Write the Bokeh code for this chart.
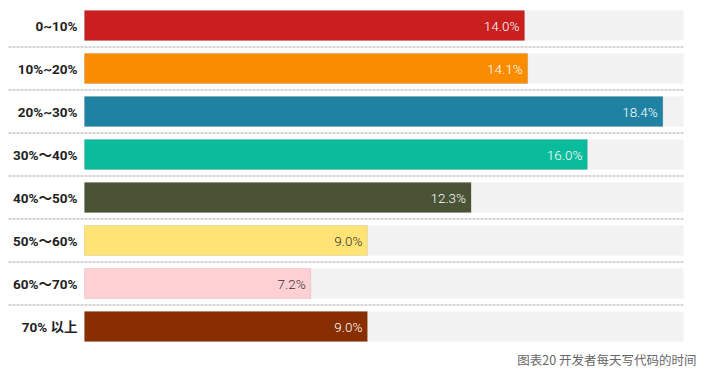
from bokeh.plotting import figure
from bokeh.models import ColumnDataSource, Range1d, Label
from bokeh.core.properties import value
from bokeh.embed import file_html
from bokeh.resources import INLINE

categories = ["0~10%", "10%~20%", "20%~30%", "30%～40%", "40%～50%", "50%～60%", "60%～70%", "70% 以上"]
values = [14.0, 14.1, 18.4, 16.0, 12.3, 9.0, 7.2, 9.0]
colors = ["#C91F1F", "#FA8C00", "#1F82A2", "#0ABC9B", "#4A5336", "#FFE375", "#FFD0D3", "#882E00"]
label_colors = ["#FFFFFF", "#FFFFFF", "#FFFFFF", "#FFFFFF", "#FFFFFF", "#333333", "#333333", "#FFFFFF"]
bg_max = 19.06
caption = "图表20 开发者每天写代码的时间"

W, H = 700, 370
px_per_unit = 31.43
x0_px = 84
row_px = 43
y0_px = 25
sep_left_px = 8

xs = -x0_px / px_per_unit
xe = (W - x0_px) / px_per_unit
ys = -y0_px / row_px
ye = ys + H / row_px

idx = list(range(len(categories)))
src = ColumnDataSource(dict(
    y=idx, v=values, c=colors, lc=label_colors, cat=categories,
    bg=[bg_max] * len(values),
    lbl=[f"{v:.1f}%" for v in values],
))

p = figure(width=W, height=H, output_backend="svg", toolbar_location=None,
           x_range=Range1d(xs, xe), y_range=Range1d(ye, ys),
           min_border=0, outline_line_color=None, background_fill_color="white")
p.axis.visible = False
p.grid.visible = False

# separators
sep_y = [i + 0.5 for i in idx[:-1]]
sep_x0 = xs + sep_left_px / px_per_unit
p.segment(x0=[sep_x0] * len(sep_y), x1=[bg_max] * len(sep_y), y0=sep_y, y1=sep_y,
          line_color="#C8C8C8", line_width=1.5, line_dash="3 1")

p.hbar(y="y", left=0, right="bg", height=0.7, source=src, fill_color="#F2F2F2", line_color=None)
p.hbar(y="y", left=0, right="v", height=0.7, source=src, fill_color="c", line_color="#000000",
       line_alpha=0.08, line_width=1)

p.text(x="v", y="y", text="lbl", source=src, text_align="right", text_baseline="middle",
       x_offset=-5, text_color="lc", text_font=value("'Roboto Light', Roboto"), text_font_size="13.5px")

p.text(x=0, y="y", text="cat", source=src, text_align="right", text_baseline="middle",
       x_offset=-7, text_color="#222222", text_font=value("Roboto, Noto Sans CJK SC"),
       text_font_style="bold", text_font_size="13.5px")

p.add_layout(Label(x=W - 4, y=2, x_units="screen", y_units="screen", text=caption,
                   text_align="right", text_baseline="bottom", text_color="#666666",
                   text_font="Noto Sans CJK SC", text_font_size="12.5px"))

open("out.html", "w").write(file_html(p, INLINE))
